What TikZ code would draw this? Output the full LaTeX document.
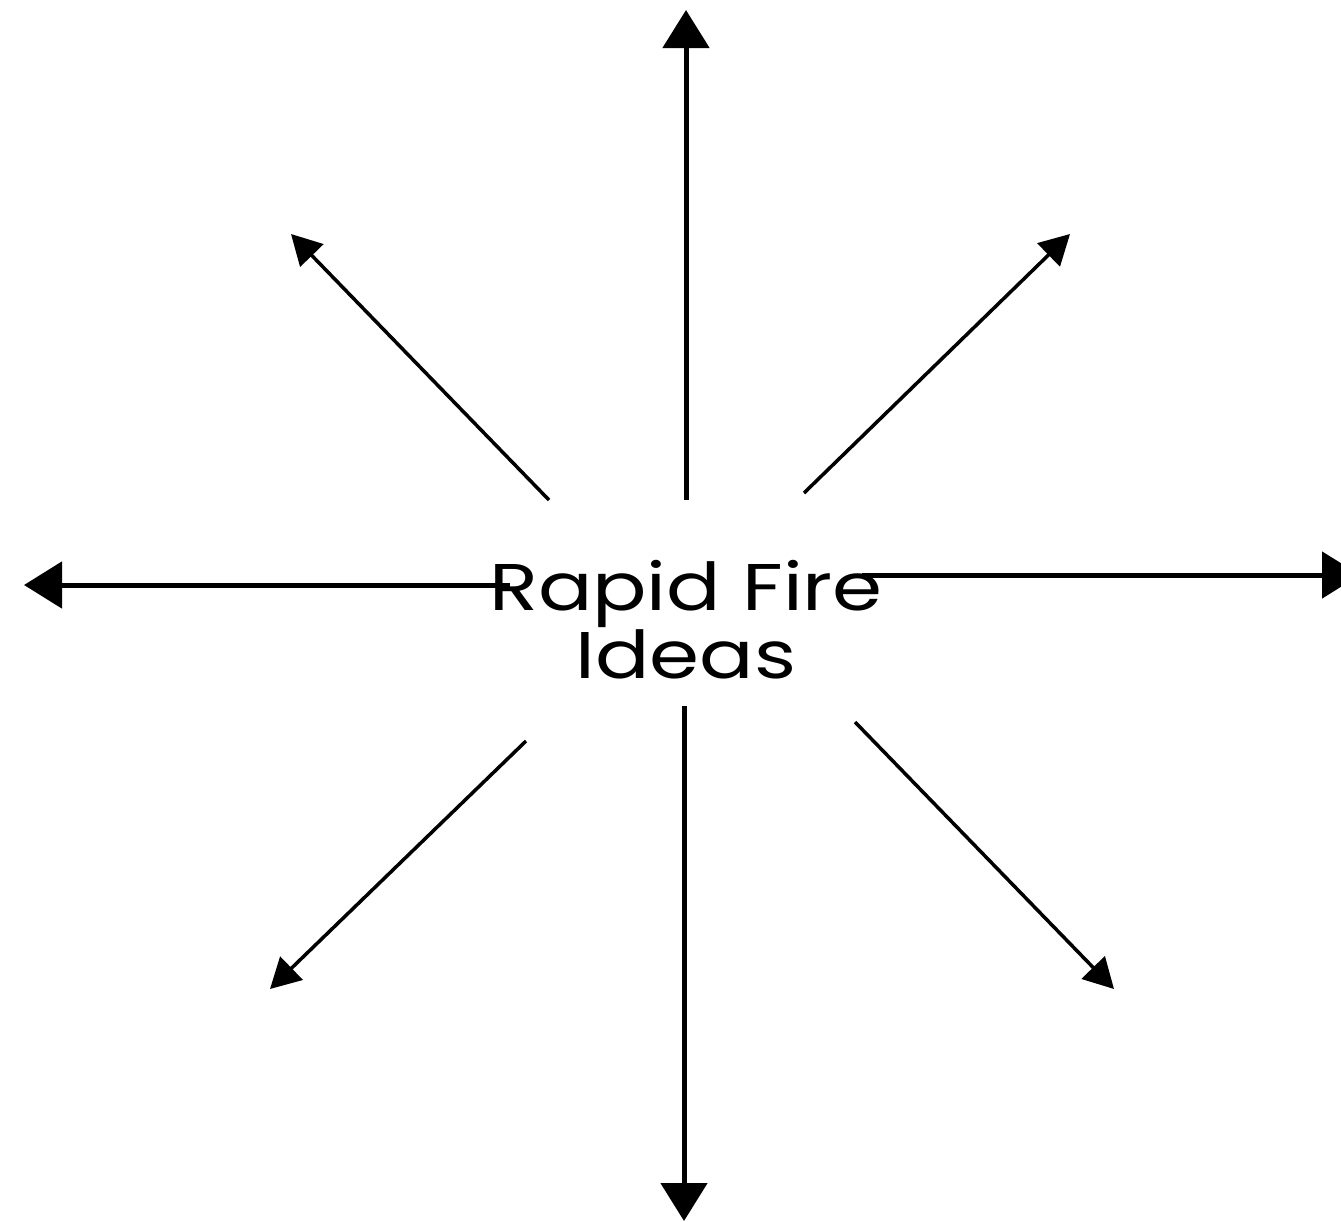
\documentclass[tikz,border=0pt]{standalone}
\usepackage{fontspec}
\setmainfont{Poppins}
\newfontfamily\ideafont[FakeStretch=1.22]{Poppins}
\usetikzlibrary{arrows.meta,positioning}

\begin{document}
\begin{tikzpicture}[
    x=1pt, y=-1pt,
    title/.style={align=center, font=\ideafont\fontsize{66}{68}\selectfont,
                  inner sep=0pt},
    mainray/.style={-{Triangle[length=38pt, width=46pt]}, line width=5pt},
    sideray/.style={-{Triangle[length=30pt, width=32pt]}, line width=3.5pt},
]
    \useasboundingbox (0,0) rectangle (1341,1221);
    \node[title] (center) at (686,620) {Rapid Fire\\Ideas};
    % start points round the text
    \coordinate (n0) at (686,500);
    \coordinate (s0) at (684,706);
    \coordinate (w0) at (510,585);
    \coordinate (e0) at (862,575);
    \coordinate (nw0) at (549,500);
    \coordinate (ne0) at (804,493);
    \coordinate (sw0) at (526,741);
    \coordinate (se0) at (855,722);
    % tips
    \coordinate (n1) at (686,10);
    \coordinate (s1) at (684,1221);
    \coordinate (w1) at (24,585);
    \coordinate (e1) at (1360,575);
    \coordinate (nw1) at (291,234);
    \coordinate (ne1) at (1070,234);
    \coordinate (sw1) at (270,989);
    \coordinate (se1) at (1114,989);
    \draw[mainray] (n0) -- (n1);
    \draw[mainray] (s0) -- (s1);
    \draw[mainray] (w0) -- (w1);
    \draw[mainray] (e0) -- (e1);
    \draw[sideray] (nw0) -- (nw1);
    \draw[sideray] (ne0) -- (ne1);
    \draw[sideray] (sw0) -- (sw1);
    \draw[sideray] (se0) -- (se1);
\end{tikzpicture}
\end{document}
